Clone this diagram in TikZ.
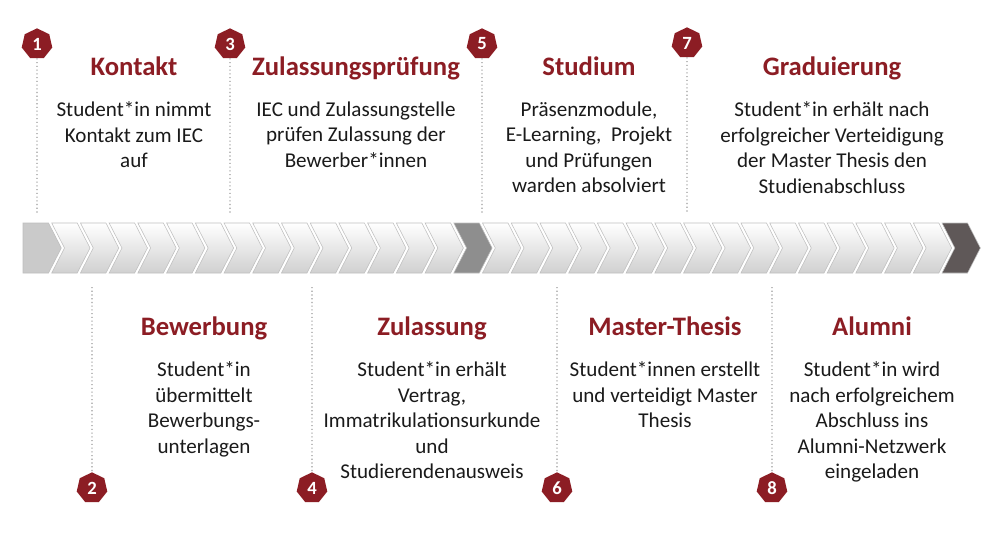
\documentclass[tikz,border=0pt]{standalone}
\usepackage{fontspec}
\setmainfont{Carlito}
\usetikzlibrary{positioning,shapes.geometric}

\definecolor{iecred}{HTML}{8C1D24}
\definecolor{textgray}{HTML}{1A1A1A}
\definecolor{dotgray}{HTML}{9A9A9A}
\definecolor{chevline}{HTML}{BEBEBE}
\definecolor{chevlight}{HTML}{D0D0D0}
\definecolor{chevstart}{HTML}{CACACA}
\definecolor{chevmid}{HTML}{8E8E8E}
\definecolor{chevend}{HTML}{5F5858}

\begin{document}
\begin{tikzpicture}[x=0.75pt,y=-0.75pt,
  badge/.style={regular polygon,regular polygon sides=7,fill=iecred,text=white,inner sep=0pt,minimum size=23.5pt,font=\bfseries\fontsize{14}{15}\selectfont},
  phase/.style={text=iecred,inner sep=0pt,text height=15pt,text depth=5pt,font=\bfseries\fontsize{20}{24}\selectfont},
  phasetext/.style={align=center,inner sep=0pt,text=textgray,font=\fontsize{15.8}{19.1}\selectfont},
  dotline/.style={draw=dotgray,dotted,line width=.8pt}]
 \fill[white] (0,0) rectangle (1000,543);

 % chevron band
 \path[draw=chevline,fill=chevstart] (23,223) -- ++(25.5,0) -- ++(12.8,25) -- ++(-12.8,25) -- ++(-25.5,0) -- cycle;
 \foreach \i in {1,...,31}{
   \ifnum\i=15 \def\chevtop{chevmid}\def\chevbot{chevmid}\else\def\chevtop{white}\def\chevbot{chevlight}\fi
   \path[draw=chevline,top color=\chevtop,bottom color=\chevbot] ({23+\i*28.72},223) -- ++(25.5,0) -- ++(12.8,25) -- ++(-12.8,25) -- ++(-25.5,0) -- ++(12.8,-25) -- cycle;
 }
 \path[draw=chevline,fill=chevend] ({23+32*28.72},223) -- ++(25.5,0) -- ++(12.8,25) -- ++(-12.8,25) -- ++(-25.5,0) -- ++(12.8,-25) -- cycle;

 % numbers
 \node[badge] (m1) at (37,44) {1};
 \node[badge] (m3) at (230,44) {3};
 \node[badge] (m5) at (482,44) {5};
 \node[badge] (m7) at (687,43) {7};
 \node[badge] (m2) at (92,488) {2};
 \node[badge] (m4) at (312,488) {4};
 \node[badge] (m6) at (557,488) {6};
 \node[badge] (m8) at (772,488) {8};

 \coordinate (e1) at (37,213);
 \coordinate (e3) at (230,213);
 \coordinate (e5) at (482,213);
 \coordinate (e7) at (687,213);
 \coordinate (e2) at (92,287);
 \coordinate (e4) at (312,287);
 \coordinate (e6) at (557,287);
 \coordinate (e8) at (772,287);

 % titles
 \node[phase] (kontakt) at (134,68.5) {Kontakt};
 \node[phase] (pruefung) at (356,68.5) {Zulassungsprüfung};
 \node[phase] (studium) at (589,68.5) {Studium};
 \node[phase] (graduierung) at (832,68.5) {Graduierung};
 \node[phase] (bewerbung) at (204,328.5) {Bewerbung};
 \node[phase] (zulassung) at (432,328.5) {Zulassung};
 \node[phase] (thesis) at (665,328.5) {Master-Thesis};
 \node[phase] (alumni) at (872,328.5) {Alumni};

 \node[phasetext] (kontakttext) [below=14.5pt of kontakt] {Student*in nimmt\\Kontakt zum IEC\\auf};
 \node[phasetext] (pruefungtext) [below=14.5pt of pruefung] {IEC und Zulassungstelle\\prüfen Zulassung der\\Bewerber*innen};
 \node[phasetext] (studiumtext) [below=14.5pt of studium] {Präsenzmodule,\\E-Learning,\ \ Projekt\\und Prüfungen\\warden absolviert};
 \node[phasetext] (graduierungtext) [below=14.5pt of graduierung] {Student*in erhält nach\\erfolgreicher Verteidigung\\der Master Thesis den\\Studienabschluss};
 \node[phasetext] (bewerbungtext) [below=14.5pt of bewerbung] {Student*in\\übermittelt\\Bewerbungs-\\unterlagen};
 \node[phasetext] (zulassungtext) [below=14.5pt of zulassung] {Student*in erhält\\Vertrag,\\Immatrikulationsurkunde\\und\\Studierendenausweis};
 \node[phasetext] (thesistext) [below=14.5pt of thesis] {Student*innen erstellt\\und verteidigt Master\\Thesis};
 \node[phasetext] (alumnitext) [below=14.5pt of alumni] {Student*in wird\\nach erfolgreichem\\Abschluss ins\\Alumni-Netzwerk\\eingeladen};

 \path[draw] (m1) edge [dotline] (e1);
 \path[draw] (m3) edge [dotline] (e3);
 \path[draw] (m5) edge [dotline] (e5);
 \path[draw] (m7) edge [dotline] (e7);
 \path[draw] (e2) edge [dotline] (m2);
 \path[draw] (e4) edge [dotline] (m4);
 \path[draw] (e6) edge [dotline] (m6);
 \path[draw] (e8) edge [dotline] (m8);
\end{tikzpicture}
\end{document}
